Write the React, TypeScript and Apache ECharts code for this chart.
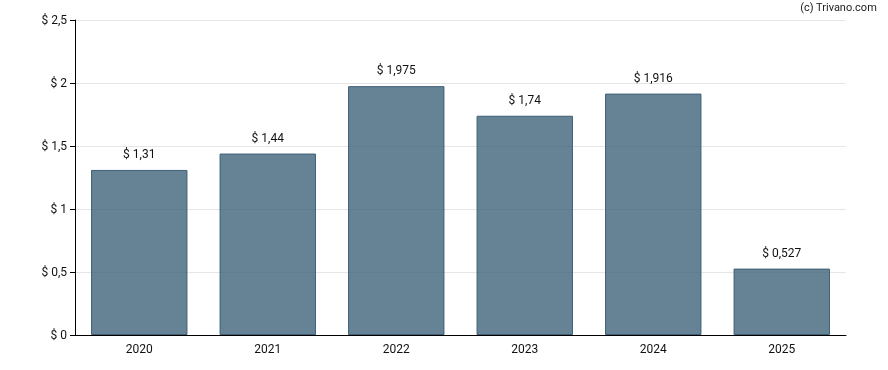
import React, { useEffect, useRef } from "react";
import * as echarts from "echarts";

const categories = ["2020", "2021", "2022", "2023", "2024", "2025"];
const values = [1.31, 1.44, 1.975, 1.74, 1.916, 0.527];
const yTicks = [0, 0.5, 1, 1.5, 2, 2.5];

const fmt = (v: number) => "$ " + String(v).replace(".", ",");

export default function App() {
  const ref = useRef<HTMLDivElement>(null);
  useEffect(() => {
    const chart = echarts.init(ref.current!, null, { renderer: "svg" });
    chart.setOption({
      animation: false,
      textStyle: { fontFamily: "Roboto" },
      grid: { left: 75, right: 42, top: 20, bottom: 35 },
      graphic: [
        {
          type: "text",
          right: 11,
          top: 2,
          style: { text: "(c) Trivano.com", font: "11px Roboto", fill: "#222" },
        },
      ],
      xAxis: {
        type: "category",
        data: categories,
        axisLine: { lineStyle: { color: "#000", width: 1 } },
        axisTick: { alignWithLabel: true, length: 5, lineStyle: { color: "#000" } },
        axisLabel: { color: "#111", fontSize: 12, margin: 8 },
      },
      yAxis: {
        type: "value",
        min: 0,
        max: yTicks[yTicks.length - 1],
        interval: 0.5,
        axisLine: { show: true, lineStyle: { color: "#000", width: 1 } },
        axisTick: { show: true, length: 5, lineStyle: { color: "#000" } },
        axisLabel: { color: "#111", fontSize: 12, margin: 8, formatter: (v: number) => fmt(v) },
        splitLine: { lineStyle: { color: "#e6e6e6" } },
      },
      series: [
        {
          type: "bar",
          data: values,
          barWidth: "75%",
          itemStyle: {
            color: "rgba(48,88,112,0.74)",
            borderColor: "#3f5f75",
            borderWidth: 1,
          },
          label: {
            show: true,
            position: "top",
            distance: 10,
            color: "#111",
            fontSize: 12,
            formatter: (p: any) => fmt(p.value),
          },
        },
      ],
    });
    return () => chart.dispose();
  }, []);
  return (
    <div
      ref={ref}
      style={{ position: "fixed", left: 0, top: 0, width: 888, height: 370 }}
    />
  );
}
